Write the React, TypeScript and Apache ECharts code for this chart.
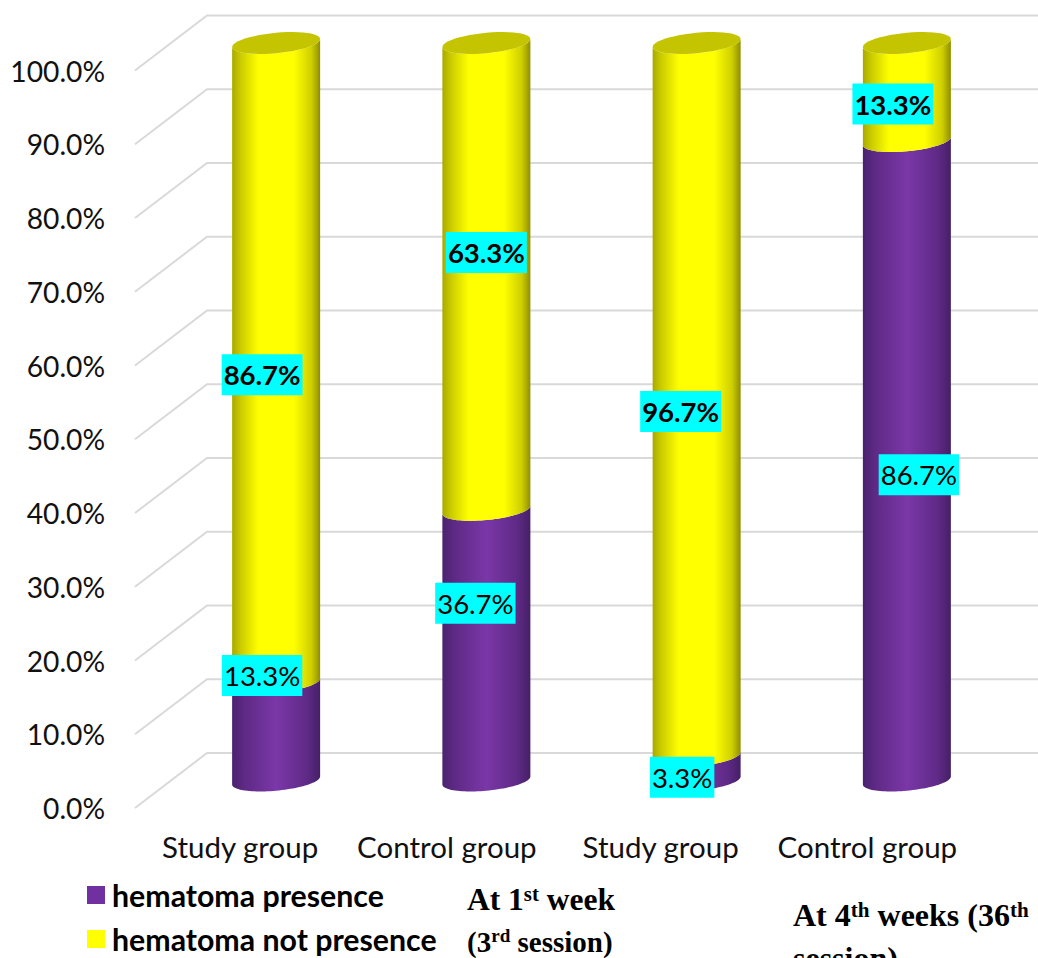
import React, { useEffect, useRef } from "react";
import * as echarts from "echarts";

const categories = ["Study group", "Control group", "Study group", "Control group"];
const presence = [13.3, 36.7, 3.3, 86.7];
const notPresence = [86.7, 63.3, 96.7, 13.3];
const tickValues = [0, 10, 20, 30, 40, 50, 60, 70, 80, 90, 100];
const SERIES_NAMES = ["hematoma presence", "hematoma not presence"];

// Manual label placement (pixel nudges from each segment's middle)
const presenceNudges = [[-14, -56], [-11, -42], [-14.5, 9], [12, 14]];
const notPresenceNudges = [[-14, 12], [0, -24], [-16, 12], [-14, 12]];

const FONT = "Lato";
const SERIF = "Liberation Serif";
const DEPTH_X = 72;
const DEPTH_Y = 55;
const MID_X = 36;
const MID_Y = 27.5;
const RX = 44;
const RY = 10.2;
const TILT = 4;

const gradient = (stops: [number, string][]) =>
  new echarts.graphic.LinearGradient(0, 0, 1, 0, stops.map(([offset, color]) => ({ offset, color })));
const purpleFill = () =>
  gradient([[0, "#4a2270"], [0.15, "#5f2a86"], [0.5, "#7a37a8"], [0.85, "#5f2a86"], [1, "#452066"]]);
const yellowFill = () =>
  gradient([[0, "#a9a900"], [0.1, "#cccc00"], [0.3, "#ffff00"], [0.7, "#ffff00"], [0.9, "#cfcf00"], [1, "#8e8e00"]]);

const arc = (cx: number, cy: number, from: number, to: number) => {
  const pts: number[][] = [];
  const n = 48;
  for (let i = 0; i <= n; i++) {
    const t = from + ((to - from) * i) / n;
    pts.push([cx + RX * Math.cos(t), cy + RY * Math.sin(t) - TILT * Math.cos(t)]);
  }
  return pts;
};

const cylinderItem = (fill: () => any, withCap: boolean) => (_: any, api: any) => {
  const cat = api.value(0);
  const low = api.coord([cat, api.value(1)]);
  const high = api.coord([cat, api.value(2)]);
  const cx = low[0] + MID_X;
  const yLow = low[1] - MID_Y;
  const yHigh = high[1] - MID_Y;
  const body = [...arc(cx, yLow, Math.PI, 0), ...arc(cx, yHigh, 0, Math.PI)];
  const children: any[] = [{ type: "polygon", shape: { points: body }, style: { fill: fill() } }];
  if (withCap) {
    children.push({ type: "polygon", shape: { points: arc(cx, yHigh, 0, Math.PI * 2) }, style: { fill: "#c4c400" } });
  }
  return { type: "group", children };
};

const stackRows = (values: number[], base: number[]) => values.map((v, i) => [i, base[i], base[i] + v]);

const note = (x: number, y: number, text: string, size: number) => ({
  type: "text",
  x,
  y,
  style: {
    text,
    fontFamily: SERIF,
    fontWeight: "bold",
    fontSize: size,
    fill: "#000",
    verticalAlign: "middle",
    rich: {
      m: { fontFamily: SERIF, fontWeight: "bold", fontSize: size, fill: "#000", lineHeight: 32 },
      s: { fontFamily: SERIF, fontWeight: "bold", fontSize: size * 0.66, fill: "#000", verticalAlign: "top", lineHeight: 32 },
    },
  },
});

export default function App() {
  const ref = useRef<HTMLDivElement>(null);
  useEffect(() => {
    const chart = echarts.init(ref.current!, undefined, { renderer: "svg" });
    const zeros = categories.map(() => 0);
    const labelRows = [
      ...stackRows(presence, zeros).map((r, i) => [...r, 0, ...presenceNudges[i]]),
      ...stackRows(notPresence, presence).map((r, i) => [...r, 1, ...notPresenceNudges[i]]),
    ];
    chart.setOption({
      animation: false,
      backgroundColor: "#ffffff",
      grid: { left: 135, top: 70.5, width: 841, height: 737.5 },
      xAxis: {
        type: "category",
        data: categories,
        axisLine: { show: false },
        axisTick: { show: false },
        axisLabel: {
          interval: 0,
          margin: 23,
          fontFamily: FONT,
          fontSize: 29.5,
          color: "#111",
          formatter: (v: string) => (v.startsWith("Control") ? `{c|${v}}` : `{s|${v}}`),
          rich: {
            c: { fontFamily: FONT, fontSize: 29.5, color: "#111", padding: [0, 7, 0, 0] },
            s: { fontFamily: FONT, fontSize: 29.5, color: "#111" },
          },
        },
      },
      yAxis: {
        type: "value",
        min: 0,
        max: 100,
        interval: 10,
        axisLine: { show: false },
        axisTick: { show: false },
        splitLine: { show: false },
        axisLabel: {
          margin: 30,
          fontFamily: FONT,
          fontSize: 28.2,
          color: "#111",
          padding: [6, 0, 0, 0],
          formatter: (v: number) => v.toFixed(1) + "%",
        },
      },
      legend: {
        left: 87,
        top: 880,
        padding: 0,
        orient: "vertical",
        icon: "rect",
        itemWidth: 18,
        itemHeight: 18,
        itemGap: 14,
        selectedMode: false,
        data: SERIES_NAMES,
        textStyle: { fontFamily: FONT, fontWeight: "bold", fontSize: 30.3, color: "#000", padding: [0, 0, 0, 2] },
      },
      graphic: [
        note(467, 899, "{m|At 1}{s|st}{m| week}", 31.5),
        note(467, 942, "{m|(3}{s|rd}{m| session)}", 29),
        note(793, 915, "{m|At 4}{s|th}{m| weeks (36}{s|th}", 32),
        note(793, 958, "{m|session)}", 32),
      ],
      series: [
        {
          type: "custom",
          name: "gridlines",
          z: 1,
          silent: true,
          data: tickValues.map((v) => [0, v]),
          encode: { x: 0, y: 1 },
          renderItem: (params: any, api: any) => {
            const y = api.coord([0, api.value(1)])[1];
            const cs = params.coordSys;
            return {
              type: "polyline",
              shape: {
                points: [
                  [cs.x, y],
                  [cs.x + DEPTH_X, y - DEPTH_Y],
                  [cs.x + cs.width + DEPTH_X, y - DEPTH_Y],
                ],
              },
              style: { stroke: "#d9d9d9", lineWidth: 2, fill: "none" },
            };
          },
          clip: false,
        },
        {
          type: "custom",
          name: SERIES_NAMES[0],
          z: 2,
          itemStyle: { color: "#7030a0" },
          data: stackRows(presence, zeros),
          encode: { x: 0, y: [1, 2] },
          renderItem: cylinderItem(purpleFill, false),
          clip: false,
        },
        {
          type: "custom",
          name: SERIES_NAMES[1],
          z: 3,
          itemStyle: { color: "#ffff00" },
          data: stackRows(notPresence, presence),
          encode: { x: 0, y: [1, 2] },
          renderItem: cylinderItem(yellowFill, true),
          clip: false,
        },
        {
          type: "custom",
          name: "labels",
          z: 4,
          silent: true,
          data: labelRows,
          encode: { x: 0, y: [1, 2] },
          renderItem: (_: any, api: any) => {
            const cat = api.value(0);
            const lo = api.value(1);
            const hi = api.value(2);
            const bold = api.value(3) === 1;
            const p = api.coord([cat, (lo + hi) / 2]);
            return {
              type: "text",
              x: p[0] + MID_X + api.value(4),
              y: p[1] - MID_Y + api.value(5),
              style: {
                text: (hi - lo).toFixed(1) + "%",
                align: "center",
                verticalAlign: "middle",
                fontFamily: FONT,
                fontSize: 27.5,
                fontWeight: bold ? "bold" : "normal",
                fill: "#000",
                backgroundColor: "#00ffff",
                padding: [8, 2, 5, 2],
              },
            };
          },
          clip: false,
        },
      ],
    });
    return () => chart.dispose();
  }, []);
  return <div ref={ref} style={{ position: "absolute", left: 0, top: 0, width: 1038, height: 958 }} />;
}
